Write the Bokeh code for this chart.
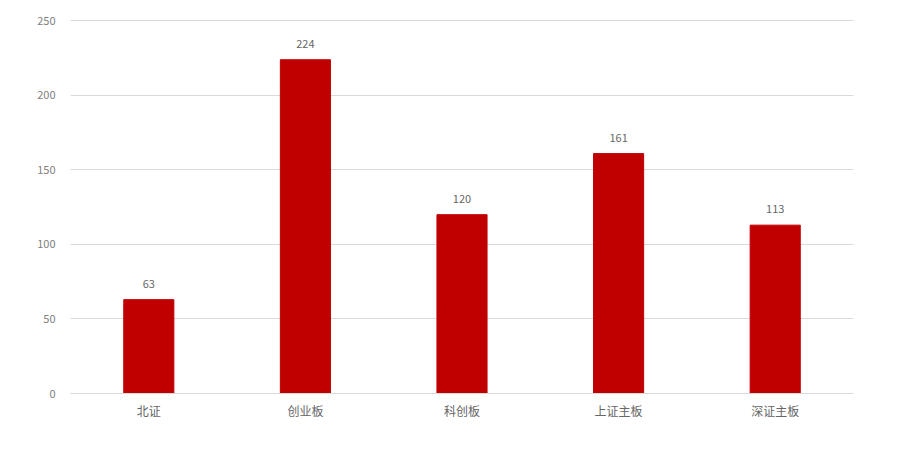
from bokeh.plotting import figure
from bokeh.models import ColumnDataSource, Range1d, FixedTicker
from bokeh.core.properties import value
from bokeh.embed import file_html
from bokeh.resources import INLINE

categories = ["北证", "创业板", "科创板", "上证主板", "深证主板"]
counts = [63, 224, 120, 161, 113]
y_ticks = [0, 50, 100, 150, 200, 250]

src = ColumnDataSource(dict(cat=categories, val=counts, lbl=[str(v) for v in counts]))

p = figure(x_range=categories, width=890, height=448, output_backend="svg",
           toolbar_location=None, min_border_left=70, min_border_right=37,
           min_border_top=19, min_border_bottom=55)
p.y_range = Range1d(0, 251)
p.outline_line_color = None
p.background_fill_color = "white"

p.vbar(x="cat", top="val", width=0.32, source=src, color="#C00000")
p.text(x="cat", y="val", text="lbl", source=src, text_align="center",
       text_baseline="bottom", y_offset=-12, text_font_size="11px",
       text_color="#666666", text_font=value("Noto Sans CJK SC"))

p.xgrid.grid_line_color = None
p.ygrid.grid_line_color = "#d9d9d9"
p.ygrid.ticker = FixedTicker(ticks=y_ticks)

p.yaxis.ticker = FixedTicker(ticks=y_ticks)
p.yaxis.axis_line_color = None
p.yaxis.major_tick_line_color = None
p.yaxis.minor_tick_line_color = None
p.yaxis.major_label_standoff = 9
p.yaxis.major_label_text_font_size = "11px"
p.yaxis.major_label_text_color = "#808080"
p.yaxis.major_label_text_font = "Noto Sans CJK SC"

p.xaxis.axis_line_color = "#d9d9d9"
p.xaxis.major_tick_line_color = None
p.xaxis.minor_tick_line_color = None
p.xaxis.major_label_standoff = 2
p.xaxis.major_label_text_font_size = "12px"
p.xaxis.major_label_text_color = "#666666"
p.xaxis.major_label_text_font = "Noto Sans CJK SC"

open("out.html", "w").write(file_html(p, INLINE))
